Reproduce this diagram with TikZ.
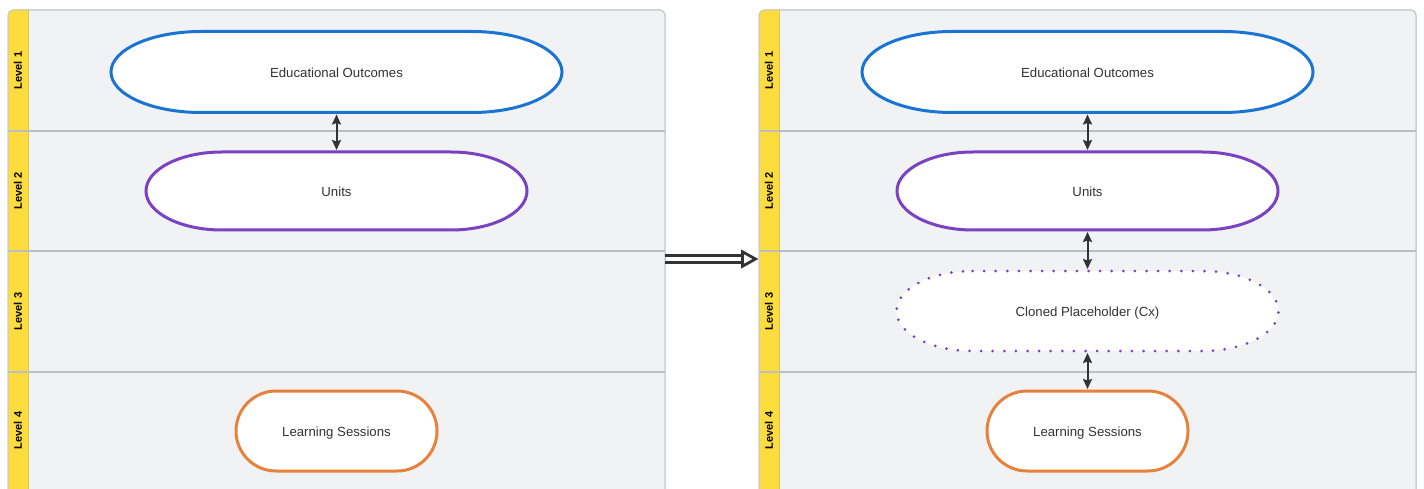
\documentclass[tikz,border=0pt]{standalone}
\usepackage{fontspec}
\setmainfont{Liberation Sans}
\usetikzlibrary{arrows.meta,calc}

\definecolor{laneBg}{HTML}{F1F2F4}
\definecolor{laneEdge}{HTML}{C9CACC}
\definecolor{laneRule}{HTML}{BDBEC0}
\definecolor{stripFill}{HTML}{FDDD3E}
\definecolor{stripEdge}{HTML}{E2C44A}
\definecolor{outBlue}{HTML}{1B74D4}
\definecolor{unitPurple}{HTML}{7A42C0}
\definecolor{sessOrange}{HTML}{E6823C}
\definecolor{inkGray}{HTML}{333333}

\tikzset{
  panel/.style={draw=laneEdge, line width=1pt, fill=laneBg, rounded corners=5pt,
    minimum width=657pt, minimum height=498pt, inner sep=0pt, outer sep=0pt, anchor=north west},
  levelname/.style={font=\fontsize{11}{12}\selectfont\bfseries, text=black, rotate=90, inner sep=0pt},
  shapelabel/.style={font=\fontsize{13.2}{15}\selectfont, text=inkGray, inner sep=0pt, anchor=mid},
  slot/.style={inner sep=0pt, outer sep=0pt, draw=none},
  termline/.style={line width=3pt, fill=white},
  dottedline/.style={line width=3pt, line cap=round, dash pattern=on 0pt off 11.6pt, fill=white},
  link/.style={draw=inkGray, line width=2pt, shorten <=2pt, shorten >=2pt,
    {Stealth[length=10pt,width=9pt,inset=1.5pt]}-{Stealth[length=10pt,width=9pt,inset=1.5pt]}},
}

% terminator: straight top and bottom, half-elliptic ends
% #1 name, #2 centre, #3 width, #4 height, #5 end radius, #6 line style, #7 text
\newcommand{\terminal}[7]{%
  \node[slot, minimum width=#3pt, minimum height=#4pt] (#1) at #2 {};
  \path[#6] ([xshift=#5pt]#1.north west) -- ([xshift=-#5pt]#1.north east)
    arc[start angle=90, end angle=-90, x radius=#5pt, y radius=#4pt/2]
    -- ([xshift=#5pt]#1.south west)
    arc[start angle=270, end angle=90, x radius=#5pt, y radius=#4pt/2] -- cycle;
  \node[shapelabel] (#1-text) at ([yshift=-2.5pt]#1.center) {#7};
}

% swimlane panel with its level strip
% #1 name, #2 left edge
\newcommand{\lanepanel}[2]{%
  \node[panel] (#1) at (#2,10) {};
  \begin{scope}
    \clip[rounded corners=5pt] (#1.north west) rectangle (#1.south east);
    \fill[stripFill] (#1.north west) rectangle ([xshift=20pt]#1.south west);
    \draw[stripEdge, line width=0.8pt] ([xshift=20pt]#1.north west) -- ([xshift=20pt]#1.south west);
    \foreach \yy in {131,251,372}
      \draw[laneRule, line width=1.1pt] (#1.west |- 0,\yy) -- (#1.east |- 0,\yy);
  \end{scope}
  \draw[laneEdge, line width=1pt, rounded corners=5pt] (#1.south west) -- (#1.north west)
    -- (#1.north east) -- (#1.south east);
  \node[levelname] (#1-l1) at ($(#1.west |- 0,70.5)+(10pt,0)$) {Level 1};
  \node[levelname] (#1-l2) at ($(#1.west |- 0,191)+(10pt,0)$) {Level 2};
  \node[levelname] (#1-l3) at ($(#1.west |- 0,311.5)+(10pt,0)$) {Level 3};
  \node[levelname] (#1-l4) at ($(#1.west |- 0,430.5)+(10pt,0)$) {Level 4};
}

\begin{document}
\begin{tikzpicture}[x=1pt, y=-1pt]
  \useasboundingbox (0,0) rectangle (1424,489);
  \clip (0,0) rectangle (1424,489);

  \lanepanel{before}{8}
  \lanepanel{after}{759}

  % hierarchy before the change
  \terminal{edu}{(336.5,72)}{451}{81}{90}{termline, draw=outBlue}{Educational Outcomes}
  \terminal{units}{(336.5,191)}{381}{78}{76}{termline, draw=unitPurple}{Units}
  \terminal{sess}{(336.5,431)}{201}{80}{40}{termline, draw=sessOrange}{Learning Sessions}
  \draw[link] (edu.south) -- (units.north);

  % hierarchy after the change
  \terminal{edu2}{(1087.5,72)}{451}{81}{90}{termline, draw=outBlue}{Educational Outcomes}
  \terminal{units2}{(1087.5,191)}{381}{78}{76}{termline, draw=unitPurple}{Units}
  \terminal{clone}{(1087.5,311)}{382}{80}{76}{dottedline, draw=unitPurple}{Cloned Placeholder (Cx)}
  \terminal{sess2}{(1087.5,431)}{201}{80}{40}{termline, draw=sessOrange}{Learning Sessions}
  \draw[link] (edu2.south) -- (units2.north);
  \draw[link] (units2.south) -- (clone.north);
  \draw[link] (clone.south) -- (sess2.north);

  % transition arrow between the panels
  \coordinate (from) at (before.east |- 0,259);
  \coordinate (to) at ([xshift=-3.5pt]after.west |- 0,259);
  \coordinate (base) at ([xshift=-13pt]to);
  \draw[inkGray, line width=3.4pt] ([yshift=3.7pt]from) -- ([yshift=3.7pt]base);
  \draw[inkGray, line width=3.4pt] ([yshift=-3.7pt]from) -- ([yshift=-3.7pt]base);
  \draw[inkGray, line width=2.8pt, line join=miter, fill=white]
    ([yshift=7.2pt]base) -- (to) -- ([yshift=-7.2pt]base) -- cycle;
\end{tikzpicture}
\end{document}
